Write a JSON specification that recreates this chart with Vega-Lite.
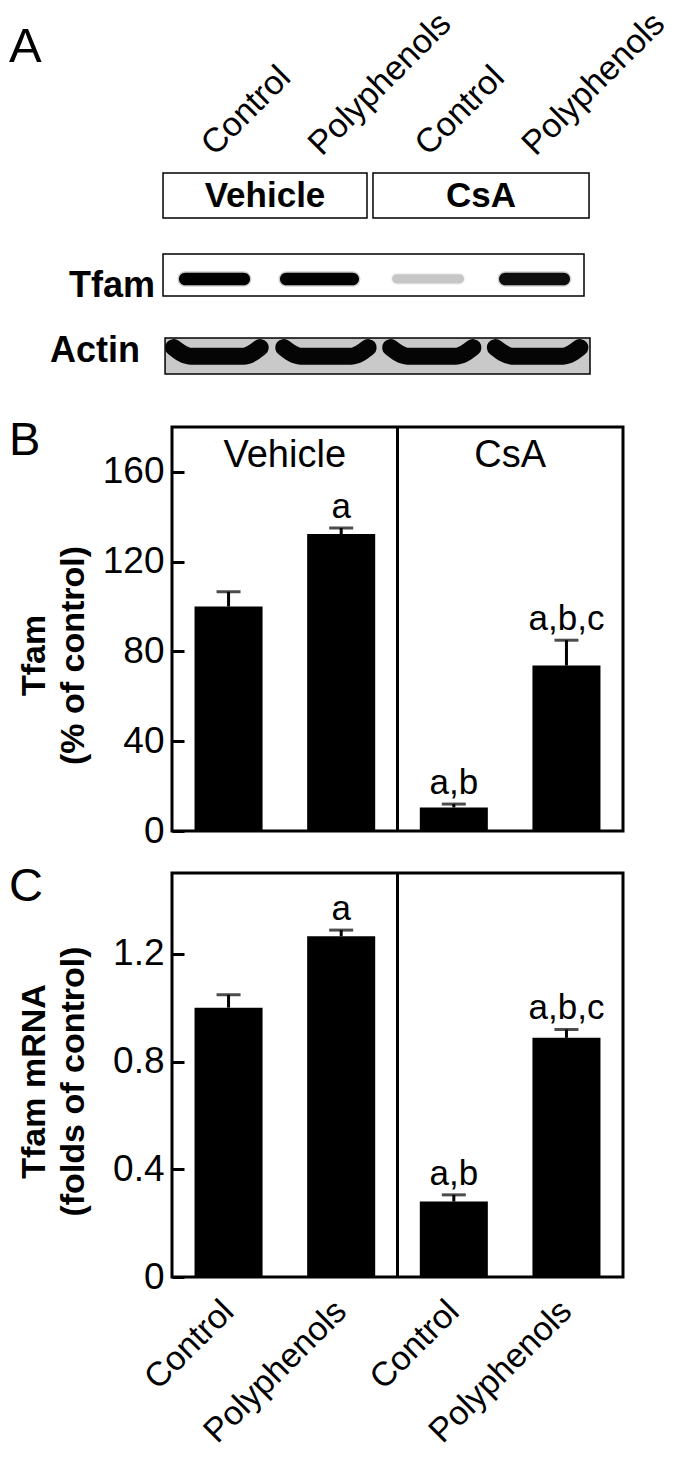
{
  "$schema": "https://vega.github.io/schema/vega-lite/v6.json",
  "padding": {"left": 7, "top": 0, "right": 5, "bottom": 5},
  "bounds": "flush",
  "spacing": 42,
  "config": {
    "font": "Liberation Sans, Arial, Helvetica, sans-serif",
    "view": {"stroke": "black", "strokeWidth": 3},
    "axis": {"labelColor": "black", "titleColor": "black", "tickColor": "black", "domainColor": "black", "grid": false, "labelOverlap": false, "labelLimit": 0, "labelFont": "Liberation Sans, Arial, sans-serif", "titleFont": "Liberation Sans, Arial, sans-serif"},
    "text": {"color": "black", "font": "Liberation Sans, Arial, sans-serif"},
    "title": {"color": "black", "font": "Liberation Sans, Arial, sans-serif", "fontWeight": "normal", "fontSize": 47, "anchor": "start", "frame": "group", "offset": 0, "baseline": "alphabetic", "dx": -163}
  },
  "datasets": {
    "a_boxes": [
      {"name": "Vehicle", "x": 0.516, "x2": 2.424, "y": 1.618, "y2": 2.039},
      {"name": "CsA", "x": 2.48, "x2": 4.501, "y": 1.618, "y2": 2.039},
      {"name": "Tfam blot", "x": 0.516, "x2": 4.454, "y": 2.375, "y2": 2.768}
    ],
    "a_actin_frame": [
      {"name": "Actin blot", "x": 0.535, "x2": 4.51, "y": 3.161, "y2": 3.497}
    ],
    "a_tfam_bands": [
      {"lane": 1, "x": 0.665, "x2": 1.33, "y": 2.55, "y2": 2.668, "intensity": 1.0},
      {"lane": 2, "x": 1.61, "x2": 2.349, "y": 2.55, "y2": 2.668, "intensity": 1.0},
      {"lane": 3, "x": 2.658, "x2": 3.332, "y": 2.565, "y2": 2.65, "intensity": 0.2},
      {"lane": 4, "x": 3.659, "x2": 4.323, "y": 2.55, "y2": 2.668, "intensity": 0.96}
    ],
    "a_actin_bands": [
      {"lane": 1, "x": 0.615, "y": 3.25}, {"lane": 1, "x": 0.77, "y": 3.33}, {"lane": 1, "x": 1.27, "y": 3.33}, {"lane": 1, "x": 1.425, "y": 3.25},
      {"lane": 2, "x": 1.645, "y": 3.25}, {"lane": 2, "x": 1.8, "y": 3.33}, {"lane": 2, "x": 2.28, "y": 3.33}, {"lane": 2, "x": 2.435, "y": 3.25},
      {"lane": 3, "x": 2.645, "y": 3.25}, {"lane": 3, "x": 2.8, "y": 3.33}, {"lane": 3, "x": 3.26, "y": 3.33}, {"lane": 3, "x": 3.415, "y": 3.25},
      {"lane": 4, "x": 3.625, "y": 3.25}, {"lane": 4, "x": 3.78, "y": 3.33}, {"lane": 4, "x": 4.26, "y": 3.33}, {"lane": 4, "x": 4.415, "y": 3.25}
    ],
    "a_lane_labels": [
      {"label": "Control", "x": 1, "y": 1.468},
      {"label": "Polyphenols", "x": 2, "y": 1.468},
      {"label": "Control", "x": 3, "y": 1.468},
      {"label": "Polyphenols", "x": 4, "y": 1.468}
    ],
    "a_box_labels": [
      {"label": "Vehicle", "x": 1.47, "y": 1.83},
      {"label": "CsA", "x": 3.49, "y": 1.83}
    ],
    "a_row_labels": [
      {"label": "Tfam", "x": 0.441, "y": 2.777},
      {"label": "Actin", "x": 0.301, "y": 3.385}
    ],
    "tfam_protein": [
      {"lane": "Vehicle|Control", "value": 100.0, "err": 106.6, "sig": ""},
      {"lane": "Vehicle|Polyphenols", "value": 132.3, "err": 135.0, "sig": "a"},
      {"lane": "CsA|Control", "value": 10.5, "err": 12.0, "sig": "a,b"},
      {"lane": "CsA|Polyphenols", "value": 73.7, "err": 85.0, "sig": "a,b,c"}
    ],
    "tfam_mrna": [
      {"lane": "Vehicle|Control", "value": 1.0, "err": 1.048, "sig": ""},
      {"lane": "Vehicle|Polyphenols", "value": 1.265, "err": 1.288, "sig": "a"},
      {"lane": "CsA|Control", "value": 0.28, "err": 0.305, "sig": "a,b"},
      {"lane": "CsA|Polyphenols", "value": 0.888, "err": 0.919, "sig": "a,b,c"}
    ],
    "groups": [
      {"group": "Vehicle"},
      {"group": "CsA"}
    ],
    "divider": [
      {"group": "CsA"}
    ]
  },
  "vconcat": [
    {
      "width": 449,
      "height": 385,
      "view": {"stroke": null},
      "title": {"text": "A", "dy": 76, "fontSize": 49},
      "layer": [
        {
          "data": {"name": "a_boxes"},
          "mark": {"type": "rect", "fill": "white", "stroke": "black", "strokeWidth": 1.5},
          "encoding": {
            "x": {"field": "x", "type": "quantitative", "scale": {"domain": [0.6, 4.8], "nice": false, "zero": false}, "axis": null},
            "x2": {"field": "x2"},
            "y": {"field": "y", "type": "quantitative", "scale": {"domain": [0, 3.6], "nice": false, "zero": false, "reverse": true}, "axis": null},
            "y2": {"field": "y2"}
          }
        },
        {
          "data": {"name": "a_actin_frame"},
          "mark": {"type": "rect", "fill": "#c9c9c9", "stroke": "black", "strokeWidth": 1.5},
          "encoding": {
            "x": {"field": "x", "type": "quantitative", "scale": {"domain": [0.6, 4.8], "nice": false, "zero": false}, "axis": null},
            "x2": {"field": "x2"},
            "y": {"field": "y", "type": "quantitative", "scale": {"domain": [0, 3.6], "nice": false, "zero": false, "reverse": true}, "axis": null},
            "y2": {"field": "y2"}
          }
        },
        {
          "data": {"name": "a_tfam_bands"},
          "mark": {"type": "rect", "cornerRadius": 7, "strokeWidth": 3, "strokeOpacity": 0.2},
          "encoding": {
            "x": {"field": "x", "type": "quantitative", "scale": {"domain": [0.6, 4.8], "nice": false, "zero": false}, "axis": null},
            "x2": {"field": "x2"},
            "y": {"field": "y", "type": "quantitative", "scale": {"domain": [0, 3.6], "nice": false, "zero": false, "reverse": true}, "axis": null},
            "y2": {"field": "y2"},
            "fill": {"field": "intensity", "type": "quantitative", "scale": {"domain": [0, 1], "range": ["#ffffff", "#000000"]}, "legend": null},
            "stroke": {"field": "intensity", "type": "quantitative", "scale": {"domain": [0, 1], "range": ["#ffffff", "#000000"]}, "legend": null}
          }
        },
        {
          "data": {"name": "a_actin_bands"},
          "mark": {"type": "line", "color": "#050505", "strokeWidth": 17, "strokeCap": "round", "interpolate": "monotone"},
          "encoding": {
            "x": {"field": "x", "type": "quantitative", "scale": {"domain": [0.6, 4.8], "nice": false, "zero": false}, "axis": null},
            "y": {"field": "y", "type": "quantitative", "scale": {"domain": [0, 3.6], "nice": false, "zero": false, "reverse": true}, "axis": null},
            "detail": {"field": "lane", "type": "nominal"}
          }
        },
        {
          "data": {"name": "a_lane_labels"},
          "mark": {"type": "text", "angle": -45, "align": "left", "baseline": "alphabetic", "fontSize": 34},
          "encoding": {
            "x": {"field": "x", "type": "quantitative", "scale": {"domain": [0.6, 4.8], "nice": false, "zero": false}, "axis": null},
            "y": {"field": "y", "type": "quantitative", "scale": {"domain": [0, 3.6], "nice": false, "zero": false, "reverse": true}, "axis": null},
            "text": {"field": "label"}
          }
        },
        {
          "data": {"name": "a_box_labels"},
          "mark": {"type": "text", "align": "center", "baseline": "middle", "fontSize": 35, "fontWeight": "bold"},
          "encoding": {
            "x": {"field": "x", "type": "quantitative", "scale": {"domain": [0.6, 4.8], "nice": false, "zero": false}, "axis": null},
            "y": {"field": "y", "type": "quantitative", "scale": {"domain": [0, 3.6], "nice": false, "zero": false, "reverse": true}, "axis": null},
            "text": {"field": "label"}
          }
        },
        {
          "data": {"name": "a_row_labels"},
          "mark": {"type": "text", "align": "right", "baseline": "alphabetic", "fontSize": 36, "fontWeight": "bold"},
          "encoding": {
            "x": {"field": "x", "type": "quantitative", "scale": {"domain": [0.6, 4.8], "nice": false, "zero": false}, "axis": null},
            "y": {"field": "y", "type": "quantitative", "scale": {"domain": [0, 3.6], "nice": false, "zero": false, "reverse": true}, "axis": null},
            "text": {"field": "label"}
          }
        }
      ]
    },
    {
      "width": 451,
      "height": 404,
      "title": {"text": "B", "dy": 43},
      "layer": [
        {
          "data": {"name": "tfam_protein"},
          "mark": {"type": "bar", "color": "black"},
          "encoding": {
            "x": {"field": "lane", "type": "nominal", "sort": null, "scale": {"type": "band", "paddingInner": 0.396, "paddingOuter": 0.2}, "axis": null},
            "y": {"field": "value", "type": "quantitative", "scale": {"domain": [0, 180], "nice": false},
              "axis": {"values": [0, 40, 80, 120, 160], "tickSize": -12, "tickWidth": 3, "domain": false, "labelFontSize": 37, "labelPadding": 20,
                "title": ["Tfam", "(% of control)"], "titleFontSize": 34, "titleFontWeight": "bold", "titleLineHeight": 39, "titlePadding": 12, "titleY": 228}}
          }
        },
        {
          "data": {"name": "tfam_protein"},
          "mark": {"type": "rule", "color": "black", "strokeWidth": 3},
          "encoding": {
            "x": {"field": "lane", "type": "nominal", "sort": null, "scale": {"type": "band", "paddingInner": 0.396, "paddingOuter": 0.2}, "axis": null},
            "y": {"field": "value", "type": "quantitative"},
            "y2": {"field": "err"}
          }
        },
        {
          "data": {"name": "tfam_protein"},
          "mark": {"type": "tick", "color": "black", "thickness": 3, "size": 24, "orient": "horizontal"},
          "encoding": {
            "x": {"field": "lane", "type": "nominal", "sort": null, "scale": {"type": "band", "paddingInner": 0.396, "paddingOuter": 0.2}, "axis": null},
            "y": {"field": "err", "type": "quantitative"}
          }
        },
        {
          "data": {"name": "tfam_protein"},
          "mark": {"type": "text", "baseline": "alphabetic", "align": "center", "dy": -10, "fontSize": 35},
          "encoding": {
            "x": {"field": "lane", "type": "nominal", "sort": null, "scale": {"type": "band", "paddingInner": 0.396, "paddingOuter": 0.2}, "axis": null},
            "y": {"field": "err", "type": "quantitative"},
            "text": {"field": "sig"}
          }
        },
        {
          "data": {"name": "divider"},
          "mark": {"type": "rule", "color": "black", "strokeWidth": 3},
          "encoding": {
            "x": {"field": "group", "type": "nominal", "bandPosition": 0, "scale": {"type": "band", "domain": ["Vehicle", "CsA"], "paddingInner": 0, "paddingOuter": 0}, "axis": null}
          }
        },
        {
          "data": {"name": "groups"},
          "mark": {"type": "text", "baseline": "alphabetic", "align": "center", "fontSize": 38},
          "encoding": {
            "x": {"field": "group", "type": "nominal", "bandPosition": 0.5, "scale": {"type": "band", "domain": ["Vehicle", "CsA"], "paddingInner": 0, "paddingOuter": 0}, "axis": null},
            "y": {"datum": 162},
            "text": {"field": "group"}
          }
        }
      ],
      "resolve": {"scale": {"x": "independent"}}
    },
    {
      "width": 451,
      "height": 404,
      "title": {"text": "C", "dy": 43},
      "layer": [
        {
          "data": {"name": "tfam_mrna"},
          "mark": {"type": "bar", "color": "black"},
          "encoding": {
            "x": {"field": "lane", "type": "nominal", "sort": null, "scale": {"type": "band", "paddingInner": 0.396, "paddingOuter": 0.2},
              "axis": {"title": null, "ticks": false, "domain": false, "labelAngle": -45, "labelAlign": "right", "labelBaseline": "middle", "labelFontSize": 34, "labelPadding": 29, "labelLimit": 0, "labelExpr": "split(datum.label, '|')[1]"}},
            "y": {"field": "value", "type": "quantitative", "scale": {"domain": [0, 1.5], "nice": false},
              "axis": {"values": [0, 0.4, 0.8, 1.2], "format": "~g", "tickSize": -12, "tickWidth": 3, "domain": false, "labelFontSize": 37, "labelPadding": 20,
                "title": ["Tfam mRNA", "(folds of control)"], "titleFontSize": 34, "titleFontWeight": "bold", "titleLineHeight": 39, "titlePadding": 22, "titleY": 208}}
          }
        },
        {
          "data": {"name": "tfam_mrna"},
          "mark": {"type": "rule", "color": "black", "strokeWidth": 3},
          "encoding": {
            "x": {"field": "lane", "type": "nominal", "sort": null, "scale": {"type": "band", "paddingInner": 0.396, "paddingOuter": 0.2}, "axis": null},
            "y": {"field": "value", "type": "quantitative"},
            "y2": {"field": "err"}
          }
        },
        {
          "data": {"name": "tfam_mrna"},
          "mark": {"type": "tick", "color": "black", "thickness": 3, "size": 24, "orient": "horizontal"},
          "encoding": {
            "x": {"field": "lane", "type": "nominal", "sort": null, "scale": {"type": "band", "paddingInner": 0.396, "paddingOuter": 0.2}, "axis": null},
            "y": {"field": "err", "type": "quantitative"}
          }
        },
        {
          "data": {"name": "tfam_mrna"},
          "mark": {"type": "text", "baseline": "alphabetic", "align": "center", "dy": -10, "fontSize": 35},
          "encoding": {
            "x": {"field": "lane", "type": "nominal", "sort": null, "scale": {"type": "band", "paddingInner": 0.396, "paddingOuter": 0.2}, "axis": null},
            "y": {"field": "err", "type": "quantitative"},
            "text": {"field": "sig"}
          }
        },
        {
          "data": {"name": "divider"},
          "mark": {"type": "rule", "color": "black", "strokeWidth": 3},
          "encoding": {
            "x": {"field": "group", "type": "nominal", "bandPosition": 0, "scale": {"type": "band", "domain": ["Vehicle", "CsA"], "paddingInner": 0, "paddingOuter": 0}, "axis": null}
          }
        }
      ],
      "resolve": {"scale": {"x": "independent"}}
    }
  ]
}
